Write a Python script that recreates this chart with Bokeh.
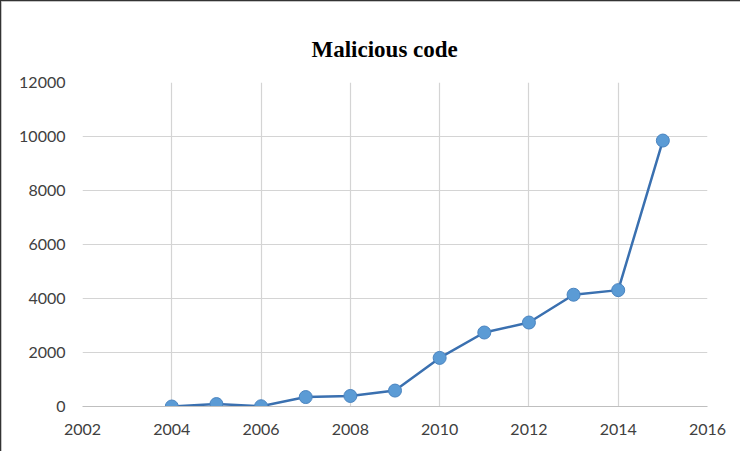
from bokeh.plotting import figure
from bokeh.models import Range1d, FixedTicker, Title
from bokeh.embed import file_html
from bokeh.resources import INLINE

years = [2004, 2005, 2006, 2007, 2008, 2009, 2010, 2011, 2012, 2013, 2014, 2015]
counts = [0, 90, 10, 350, 390, 590, 1800, 2740, 3110, 4140, 4310, 9850]
x_ticks = [2002, 2004, 2006, 2008, 2010, 2012, 2014, 2016]
y_ticks = [0, 2000, 4000, 6000, 8000, 10000, 12000]
title_text = "Malicious code"

p = figure(width=740, height=451, output_backend="svg", toolbar_location=None,
           x_range=Range1d(2002, 2016), y_range=Range1d(0, 12000),
           min_border_left=81, min_border_right=34, min_border_top=81, min_border_bottom=46)
p.styles = {"border-left": "1px solid #333333", "border-top": "1px solid #333333",
            "box-shadow": "inset 1px 1px 0 #b0b0b0"}

t = Title(text=title_text, align="left", offset=229, text_font="Liberation Serif",
          text_font_size="23px", text_font_style="bold", text_color="#000000", standoff=41)
p.title = t

p.outline_line_color = None
for ax in (p.xaxis[0], p.yaxis[0]):
    ax.major_tick_line_color = None
    ax.minor_tick_line_color = None
    ax.major_tick_out = 0
    ax.major_tick_in = 0
    ax.major_label_text_font = "Lato"
    ax.major_label_text_font_size = "16px"
    ax.major_label_text_color = "#404040"
p.xaxis.ticker = FixedTicker(ticks=x_ticks)
p.yaxis.ticker = FixedTicker(ticks=y_ticks)
p.xaxis.axis_line_color = "#bfbfbf"
p.yaxis.axis_line_color = None
p.xaxis.major_label_standoff = 17
p.yaxis.major_label_standoff = 17

p.xgrid.ticker = FixedTicker(ticks=x_ticks)
p.ygrid.ticker = FixedTicker(ticks=y_ticks)
p.grid.grid_line_color = "#d4d4d4"
p.grid.grid_line_width = 1.2

p.line(years, counts, line_color="#3a70b0", line_width=2.5)
p.scatter(years, counts, size=13, fill_color="#5b9bd5", line_color="#4a84c0", line_width=1)

open("out.html", "w").write(file_html(p, INLINE))
